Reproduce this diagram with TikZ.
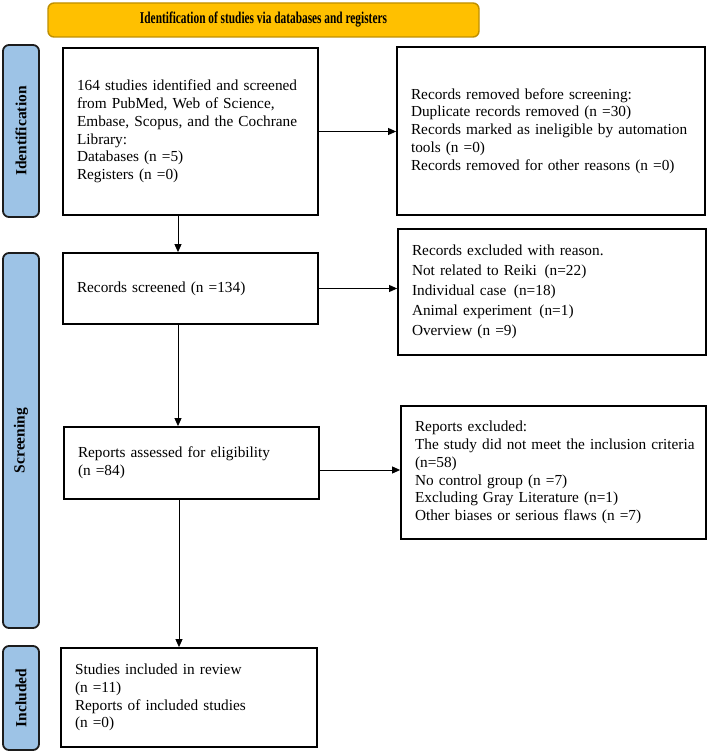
\documentclass[tikz,border=0pt]{standalone}
\usepackage{fontspec}
\usepackage{graphicx}
\setmainfont{Liberation Serif}
\usetikzlibrary{arrows.meta}
\definecolor{hdrfill}{HTML}{FFC000}
\definecolor{hdrbord}{HTML}{BF8F00}
\definecolor{sidefill}{HTML}{9DC3E6}
\definecolor{sidebord}{HTML}{1C1C1C}
\begin{document}
\begin{tikzpicture}[x=1pt,y=-1pt,
  box/.style={draw=black, line width=1.8pt, fill=white, align=left, inner xsep=14pt, inner ysep=0pt,
    font=\fontsize{15.3}{17.8}\selectfont},
  side/.style={draw=sidebord, fill=sidefill, line width=1.8pt, rounded corners=6pt, rotate=90,
    minimum height=36pt, inner sep=0pt, font=\bfseries\fontsize{15.5}{18}\selectfont},
  hdr/.style={draw=hdrbord, fill=hdrfill, line width=1.4pt, rounded corners=6pt, inner sep=0pt,
    font=\bfseries\fontsize{16.5}{18}\selectfont},
  arr/.style={-{Triangle[length=8pt,width=7pt]}, line width=0.9pt}]
\useasboundingbox (0,0) rectangle (709,752);

% header
\node[hdr, minimum width=431pt, minimum height=34pt] (hdr) at (263.5,20)
  {\resizebox{247pt}{\height}{Identification of studies via databases and registers}};

% side labels
\node[side, minimum width=172pt] (sid) at (21,131) {Identification};
\node[side, minimum width=375pt] (sscr) at (21,440.5) {Screening};
\node[side, minimum width=104pt] (sinc) at (21,698) {Included};

% left column
\node[box, text width=227pt, minimum height=167pt] (b1) at (190.5,131.5)
  {\mbox{164 studies identified and screened}\\from PubMed, Web of Science,\\\mbox{Embase, Scopus, and the Cochrane}\\Library:\\Databases (n =5)\\Registers (n =0)};
\node[box, text width=227pt, minimum height=71pt] (b2) at (190.5,288.5)
  {Records screened (n =134)};
\node[box, text width=227pt, minimum height=72pt] (b3) at (191.5,463)
  {Reports assessed for eligibility\\(n =84)};
\node[box, text width=228pt, minimum height=99pt] (b4) at (189,697.5)
  {Studies included in review\\(n =11)\\Reports of included studies\\(n =0)};

% right column
\node[box, text width=280pt, minimum height=168pt] (r1) at (551,131)
  {Records removed before screening:\\Duplicate records removed (n =30)\\\mbox{Records marked as ineligible by automation}\\tools (n =0)\\\mbox{Records removed for other reasons (n =0)}\par\vspace{8pt}};
\node[box, text width=280pt, minimum height=126pt, font=\fontsize{15.3}{20}\selectfont] (r2) at (552,292)
  {Records excluded with reason.\\Not related to Reiki\hspace{0.5em}(n=22)\\Individual case\hspace{0.5em}(n=18)\\Animal experiment\hspace{0.5em}(n=1)\\Overview (n =9)};
\node[box, text width=277pt, minimum height=133pt] (r3) at (553.5,472.5)
  {Reports excluded:\\\mbox{The study did not meet the inclusion criteria}\\(n=58)\\No control group (n =7)\\Excluding Gray Literature (n=1)\\Other biases or serious flaws (n =7)};

% connectors
\draw[arr] (b1.east) -- (b1.east -| r1.west);
\draw[arr] ([xshift=-12.5pt]b1.south) -- ([xshift=-12.5pt]b1.south |- b2.north);
\draw[arr] (b2.east) -- (b2.east -| r2.west);
\draw[arr] ([xshift=-12.5pt]b2.south) -- ([xshift=-12.5pt]b2.south |- b3.north);
\draw[arr] ([yshift=-7pt]b3.east) -- ([yshift=-7pt]b3.east -| r3.west);
\draw[arr] ([xshift=-12.5pt]b3.south) -- ([xshift=-12.5pt]b3.south |- b4.north);
\end{tikzpicture}
\end{document}
